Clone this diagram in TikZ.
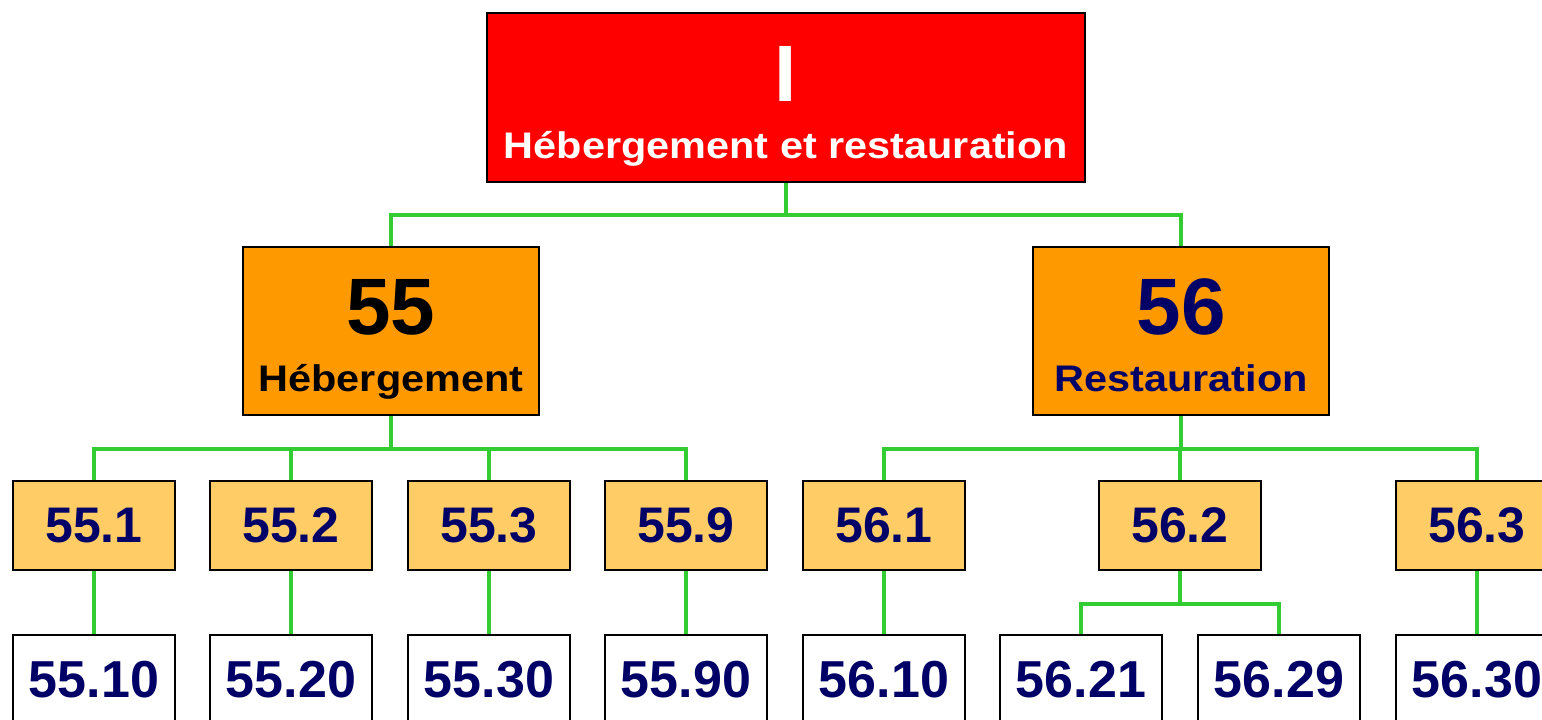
\documentclass[tikz,border=0pt]{standalone}
\usepackage{fontspec}
\setmainfont{Liberation Sans}
\newfontfamily\widefont[FakeStretch=1.12]{Liberation Sans}
\usetikzlibrary{positioning}

\definecolor{nafred}{HTML}{FF0000}
\definecolor{naforange}{HTML}{FF9900}
\definecolor{nafpale}{HTML}{FFCC66}
\definecolor{nafnavy}{HTML}{000066}
\definecolor{nafgreen}{HTML}{33CC33}

\tikzset{
    box/.style={draw=black, line width=2.5pt, inner sep=0pt, font=\bfseries},
    bigbox/.style={box, align=center, text depth=0pt, text height=121pt,
                   font=\fontsize{37}{57}\selectfont\bfseries},
    classbox/.style={box, fill=nafpale, text=nafnavy, minimum width=162pt,
                     minimum height=89pt, font=\fontsize{50}{60}\selectfont\bfseries},
    subbox/.style={classbox, fill=white, font=\fontsize{52}{60}\selectfont\bfseries},
    link/.style={draw=nafgreen, line width=4pt}
}

\begin{document}
\begin{tikzpicture}[x=1pt, y=-1pt]
    \useasboundingbox (0,0) rectangle (1542,720);
    \clip (0,0) rectangle (1542,720);

    % section
    \node[bigbox, fill=nafred, text=white, minimum width=598pt, minimum height=169pt]
        (secI) at (786,97.5)
        {{\fontsize{80}{57}\selectfont I}\\{\widefont H\'ebergement et restauration}};

    % divisions
    \node[bigbox, fill=naforange, text=black, minimum width=296pt, minimum height=168pt]
        (div55) at (391,331)
        {{\fontsize{80}{57}\selectfont 55}\\{\widefont H\'ebergement}};
    \node[bigbox, fill=naforange, text=nafnavy, minimum width=296pt, minimum height=168pt]
        (div56) at (1181,331)
        {{\fontsize{80}{57}\selectfont 56}\\{\widefont Restauration}};

    % groups
    \node[classbox] (g551) at (94,525.5)  {55.1};
    \node[classbox] (g552) at (291,525.5) {55.2};
    \node[classbox] (g553) at (489,525.5) {55.3};
    \node[classbox] (g559) at (686,525.5) {55.9};
    \node[classbox] (g561) at (884,525.5) {56.1};
    \node[classbox] (g562) at (1180,525.5) {56.2};
    \node[classbox] (g563) at (1477,525.5) {56.3};

    % classes
    \node[subbox] (c5510) at (94,679.5)   {55.10};
    \node[subbox] (c5520) at (291,679.5)  {55.20};
    \node[subbox] (c5530) at (489,679.5)  {55.30};
    \node[subbox] (c5590) at (686,679.5)  {55.90};
    \node[subbox] (c5610) at (884,679.5)  {56.10};
    \node[subbox] (c5621) at (1081,679.5) {56.21};
    \node[subbox] (c5629) at (1279,679.5) {56.29};
    \node[subbox] (c5630) at (1477,679.5) {56.30};

    % tree lines
    \foreach \d in {div55,div56}
        \draw[link] (secI.south) -- ++(0,32) -| (\d.north);
    \foreach \g in {g551,g552,g553,g559}
        \draw[link] (div55.south) -- ++(0,33) -| (\g.north);
    \foreach \g in {g561,g562,g563}
        \draw[link] (div56.south) -- ++(0,33) -| (\g.north);
    \foreach \g/\c in {g551/c5510,g552/c5520,g553/c5530,g559/c5590,g561/c5610,g563/c5630}
        \draw[link] (\g.south) -- (\c.north);
    \foreach \c in {c5621,c5629}
        \draw[link] (g562.south) -- ++(0,33) -| (\c.north);
\end{tikzpicture}
\end{document}
